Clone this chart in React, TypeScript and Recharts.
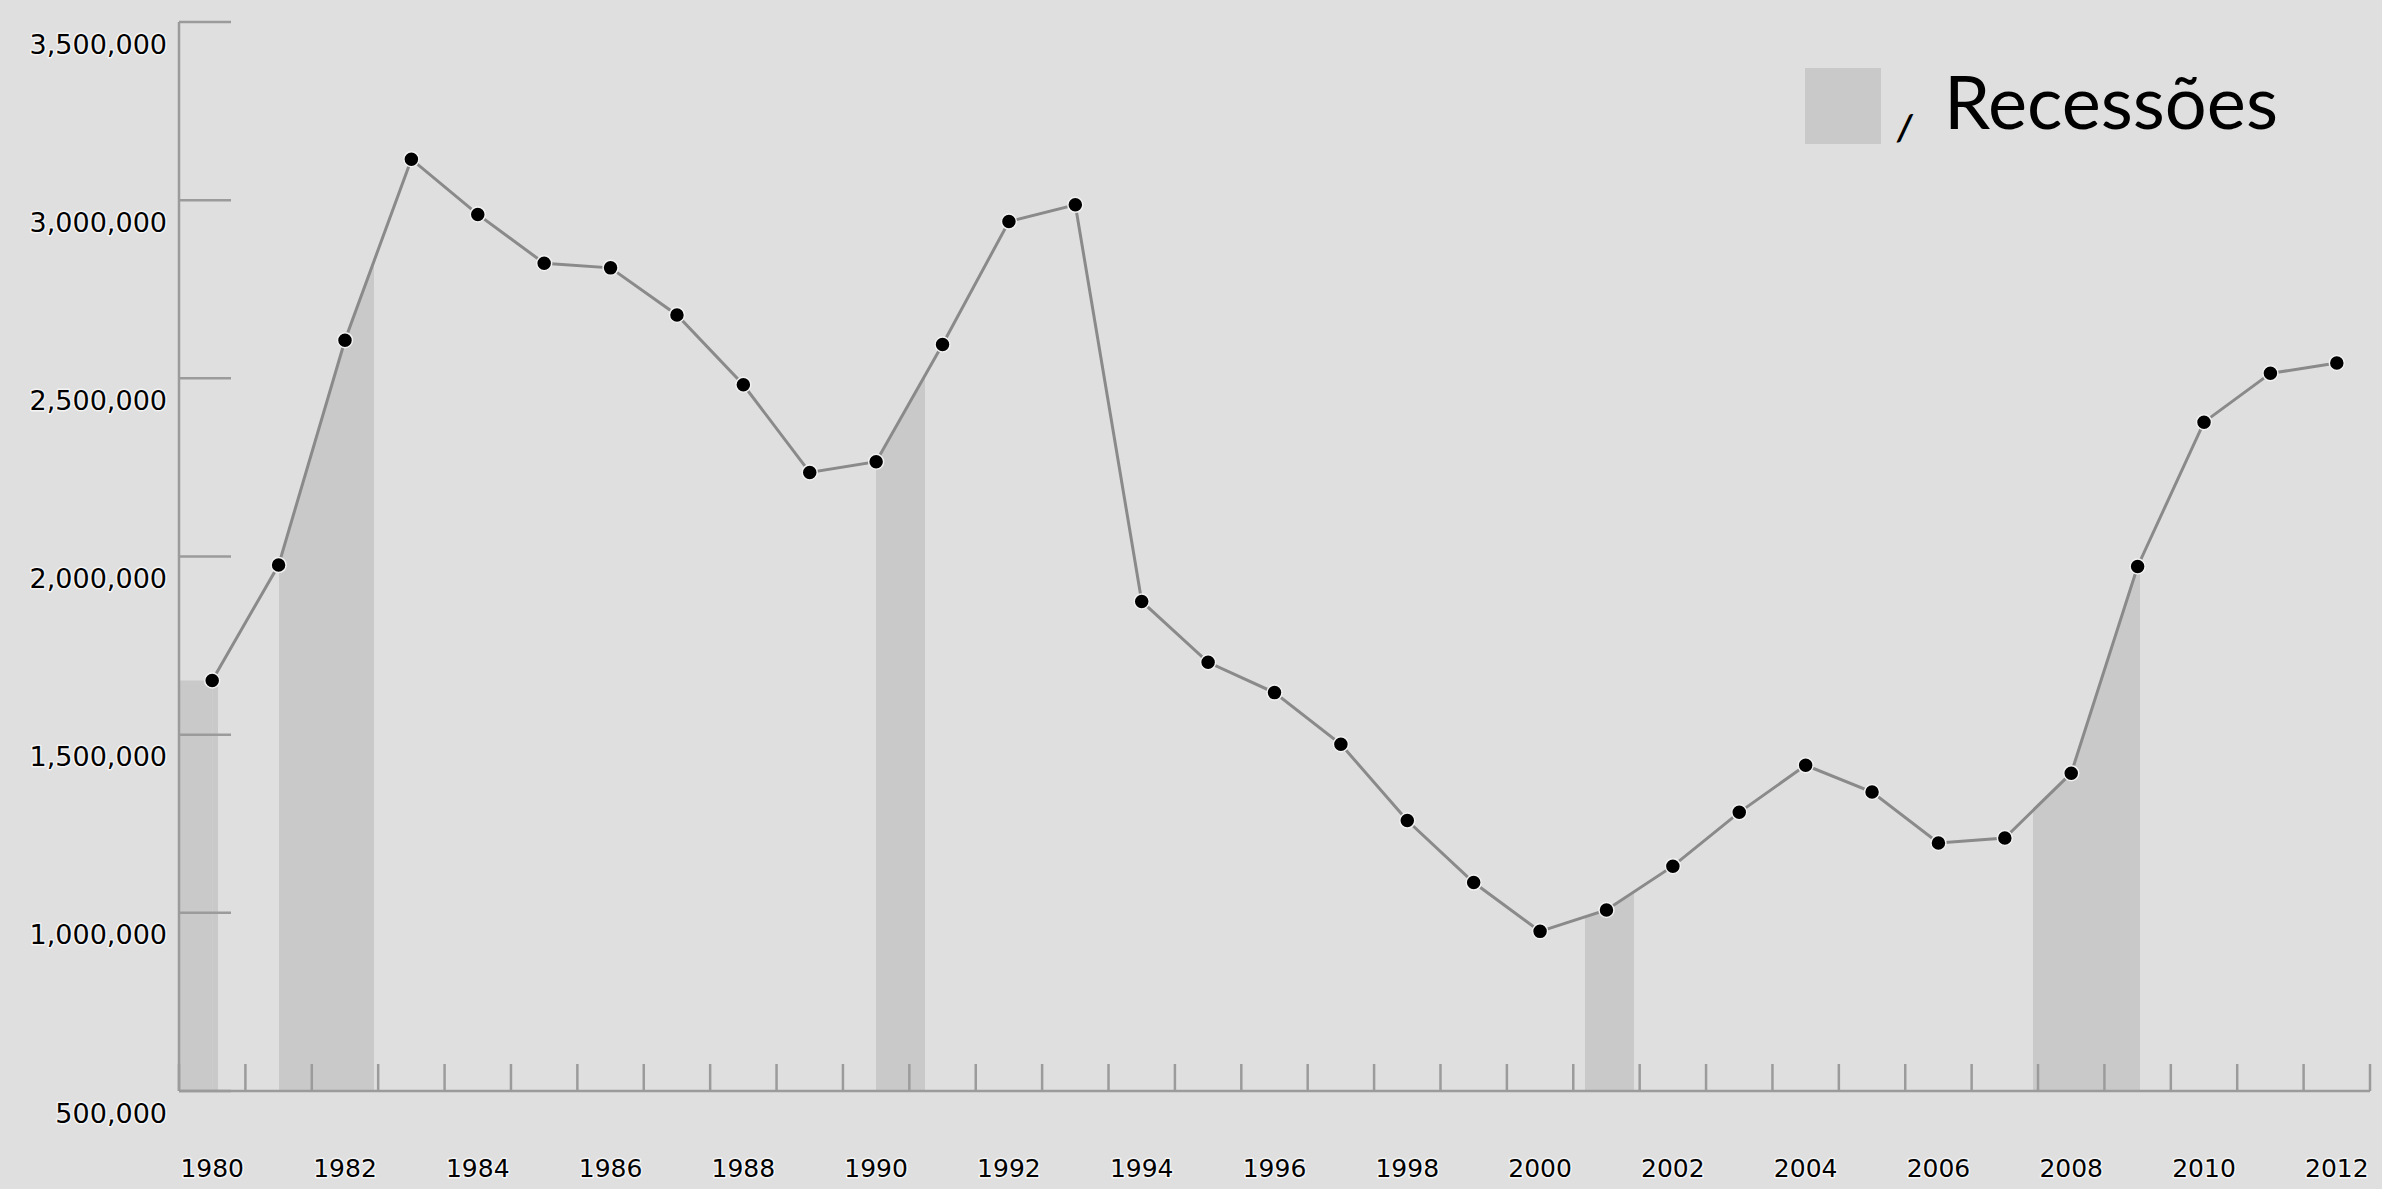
import React from 'react';
import { ComposedChart, Line, Area, XAxis, YAxis, ReferenceArea } from 'recharts';

// ---- data ----
const years = [
  1980, 1981, 1982, 1983, 1984, 1985, 1986, 1987, 1988, 1989, 1990,
  1991, 1992, 1993, 1994, 1995, 1996, 1997, 1998, 1999, 2000, 2001,
  2002, 2003, 2004, 2005, 2006, 2007, 2008, 2009, 2010, 2011, 2012,
];
const values = [
  1652000, 1976000, 2607000, 3115000, 2960000, 2823000, 2810000, 2678000,
  2482000, 2236000, 2266000, 2595000, 2940000, 2987000, 1874000, 1703000,
  1618000, 1473000, 1259000, 1085000, 948000, 1008000, 1131000, 1282000,
  1414000, 1339000, 1196000, 1210000, 1392000, 1972000, 2377000, 2514000,
  2543000,
];
const yTicks = [500000, 1000000, 1500000, 2000000, 2500000, 3000000, 3500000];
const xLabelTicks = [
  1980, 1982, 1984, 1986, 1988, 1990, 1992, 1994, 1996, 1998, 2000, 2002,
  2004, 2006, 2008, 2010, 2012,
];
const recessionStarts = [1979.5, 1981.0, 1990.0, 2000.68, 2007.43];
const recessionEnds = [1980.08, 1982.43, 1990.73, 2001.42, 2009.04];
const legendLabel = 'Recessões';

// ---- derived ----
const data = years.map((year, i) => ({ year, value: values[i] }));
const xMin = years[0] - 0.5;
const xMax = years[years.length - 1] + 0.5;
const yearBoundaries = years.map((y) => y - 0.5).concat([xMax]);
const yMin = yTicks[0];
const yMax = yTicks[yTicks.length - 1];

const BG = '#dfdfdf';
const REC = '#c9c9c9';
const AXIS = '#9b9b9b';
const LINE = '#8a8a8a';
const FONT = '"DejaVu Sans", sans-serif';

const span = years[years.length - 1] - years[0];
const clamp = (v: number) => Math.max(0, Math.min(1, v));
const gradStops: { offset: number; on: boolean }[] = [];
recessionStarts.forEach((s, i) => {
  const a = clamp((s - years[0]) / span);
  const b = clamp((recessionEnds[i] - years[0]) / span);
  gradStops.push({ offset: a, on: false }, { offset: a, on: true }, { offset: b, on: true }, { offset: b, on: false });
});

const fmt = (n: number) => n.toLocaleString('en-US');

const textHalo = { paintOrder: 'stroke' as const, stroke: '#f4f4f4', strokeWidth: 3, strokeLinejoin: 'round' as const };

const YTick = (props: any) => {
  const { x, y, payload } = props;
  return (
    <g>
      <line x1={x} y1={y} x2={x + 52} y2={y} stroke={AXIS} strokeWidth={2.5} />
      <text x={x - 12} y={y + 24} textAnchor="end" dominantBaseline="middle" fontFamily={FONT} fontSize={27} fill="#000" style={textHalo}>
        {fmt(payload.value)}
      </text>
    </g>
  );
};

const MarkTick = (props: any) => {
  const { x, y } = props;
  return <line x1={x} y1={y} x2={x} y2={y - 27} stroke={AXIS} strokeWidth={2.5} />;
};

const LabelTick = (props: any) => {
  const { x, y, payload } = props;
  return (
    <text x={x} y={y + 78} textAnchor="middle" dominantBaseline="middle" fontFamily={FONT} fontSize={25} fill="#000" style={textHalo}>
      {payload.value}
    </text>
  );
};

const MARKS = 'a_marks';
const LABELS = 'b_labels';

export default function App() {
  return (
    <div style={{ position: 'absolute', left: 0, top: 0, width: 2382, height: 1189, background: BG, overflow: 'hidden' }}>
      <ComposedChart width={2382} height={1189} data={data} margin={{ top: 22, right: 12, left: 0, bottom: 0 }}>
        <defs>
          <linearGradient id="recGrad" x1="0" y1="0" x2="1" y2="0">
            {gradStops.map((s, i) => (
              <stop key={i} offset={s.offset} stopColor={REC} stopOpacity={s.on ? 1 : 0} />
            ))}
          </linearGradient>
        </defs>
        <XAxis
          xAxisId={MARKS}
          dataKey="year"
          type="number"
          domain={[xMin, xMax]}
          ticks={yearBoundaries}
          interval={0}
          tickSize={0}
          tickMargin={0}
          tickLine={false}
          axisLine={{ stroke: AXIS, strokeWidth: 2.5 }}
          tick={<MarkTick />}
          height={1}
        />
        <XAxis
          xAxisId={LABELS}
          dataKey="year"
          type="number"
          domain={[xMin, xMax]}
          ticks={xLabelTicks}
          interval={0}
          tickSize={0}
          tickMargin={0}
          tickLine={false}
          axisLine={false}
          tick={<LabelTick />}
          height={97}
        />
        <YAxis
          type="number"
          domain={[yMin, yMax]}
          ticks={yTicks}
          interval={0}
          width={179}
          tickSize={0}
          tickMargin={0}
          tickLine={false}
          axisLine={{ stroke: AXIS, strokeWidth: 2.5 }}
          tick={<YTick />}
        />
        <ReferenceArea
          xAxisId={MARKS}
          x1={recessionStarts[0]}
          x2={years[0]}
          y1={yMin}
          y2={values[0]}
          fill={REC}
          fillOpacity={1}
          stroke="none"
        />
        <Area
          xAxisId={MARKS}
          dataKey="value"
          type="linear"
          baseValue={yMin}
          stroke="none"
          fill="url(#recGrad)"
          fillOpacity={1}
          isAnimationActive={false}
          dot={false}
          activeDot={false}
        />
        <Line
          xAxisId={MARKS}
          dataKey="value"
          type="linear"
          stroke={LINE}
          strokeWidth={3}
          dot={{ r: 7.5, fill: '#000', stroke: '#f2f2f2', strokeWidth: 1.5 }}
          activeDot={false}
          isAnimationActive={false}
        />
      </ComposedChart>
      <svg width={2382} height={1189} style={{ position: 'absolute', left: 0, top: 0, pointerEvents: 'none' }}>
        <rect x={1805} y={68} width={76} height={76} fill={REC} />
        <text x={1897} y={140} fontFamily="Lato, sans-serif" fontSize={36} fontStyle="italic" fontWeight={700} fill="#000">/</text>
        <text x={1944} y={129} fontFamily="Lato, sans-serif" fontSize={74} fill="#000">{legendLabel}</text>
      </svg>
    </div>
  );
}
